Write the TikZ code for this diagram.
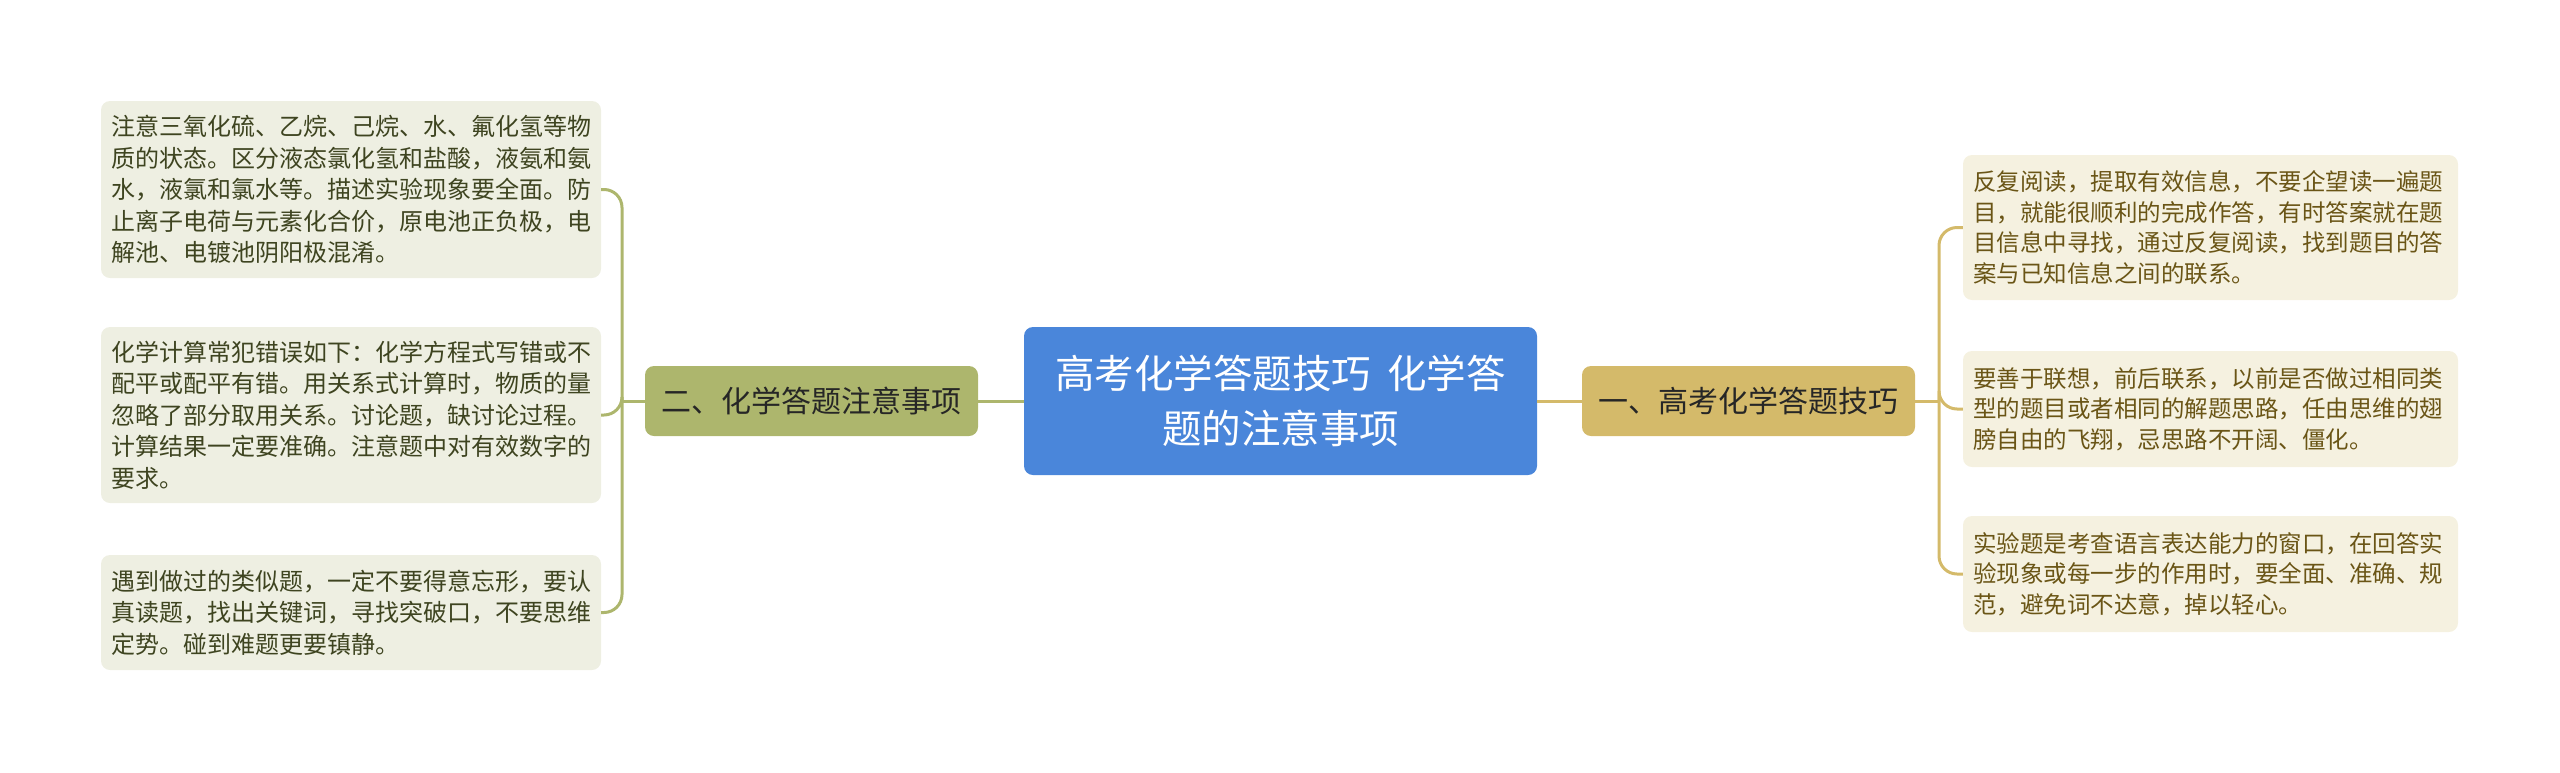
\documentclass[tikz,border=0pt]{standalone}
\usepackage{fontspec}
\setmainfont{Noto Sans CJK SC}
\usetikzlibrary{calc}
\definecolor{cblue}{HTML}{4A86DA}
\definecolor{cOlive}{HTML}{ADB66D}
\definecolor{cGold}{HTML}{D4BA6A}
\definecolor{lfill}{HTML}{EEEFE2}
\definecolor{rfill}{HTML}{F5F1E0}
\definecolor{ltext}{HTML}{3E4420}
\definecolor{rtext}{HTML}{6A5516}
\definecolor{btext}{HTML}{262626}
\begin{document}
\begin{tikzpicture}[x=1pt,y=-1pt,
  leafL/.style={rectangle, rounded corners=9pt, fill=lfill, text=ltext,
    font=\fontsize{24pt}{31.5pt}\selectfont, align=left, text width=480pt,
    inner xsep=10pt, inner ysep=0pt},
  leafR/.style={rectangle, rounded corners=9pt, fill=rfill, text=rtext,
    font=\fontsize{23.5pt}{30.5pt}\selectfont, align=left, text width=475pt,
    inner xsep=10pt, inner ysep=0pt},
  branch/.style={rectangle, rounded corners=9pt, text=btext,
    font=\fontsize{30pt}{36pt}\selectfont, minimum width=333pt, minimum height=70pt,
    inner sep=0pt},
  center/.style={rectangle, rounded corners=9pt, fill=cblue, text=white,
    font=\fontsize{39.5pt}{55pt}\selectfont, align=center,
    minimum width=513pt, minimum height=148pt, inner sep=0pt},
  lconn/.style={draw=cOlive, line width=3pt, rounded corners=18pt},
  rconn/.style={draw=cGold, line width=3pt, rounded corners=18pt}
]
\useasboundingbox (0,0) rectangle (2560,772);

\node[center] (C) at (1280.5,401) {高考化学答题技巧\hspace{0.4em}化学答\\题的注意事项};
\node[branch, fill=cOlive] (bL) at (811.5,401) {二、化学答题注意事项};
\node[branch, fill=cGold] (bR) at (1748.5,401) {一、高考化学答题技巧};

\node[leafL, minimum height=177pt] (L1) at (351,189.5) {注意三氧化硫、乙烷、己烷、水、氟化氢等物\\质的状态。区分液态氯化氢和盐酸，液氨和氨\\水，液氯和氯水等。描述实验现象要全面。防\\止离子电荷与元素化合价，原电池正负极，电\\解池、电镀池阴阳极混淆。};
\node[leafL, minimum height=176pt] (L2) at (351,415) {化学计算常犯错误如下：化学方程式写错或不\\配平或配平有错。用关系式计算时，物质的量\\忽略了部分取用关系。讨论题，缺讨论过程。\\计算结果一定要准确。注意题中对有效数字的\\要求。};
\node[leafL, minimum height=115pt] (L3) at (351,612.5) {遇到做过的类似题，一定不要得意忘形，要认\\真读题，找出关键词，寻找突破口，不要思维\\定势。碰到难题更要镇静。};

\node[leafR, minimum height=145pt] (R1) at (2210.5,227.5) {反复阅读，提取有效信息，不要企望读一遍题\\目，就能很顺利的完成作答，有时答案就在题\\目信息中寻找，通过反复阅读，找到题目的答\\案与已知信息之间的联系。};
\node[leafR, minimum height=116pt] (R2) at (2210.5,409) {要善于联想，前后联系，以前是否做过相同类\\型的题目或者相同的解题思路，任由思维的翅\\膀自由的飞翔，忌思路不开阔、僵化。};
\node[leafR, minimum height=116pt] (R3) at (2210.5,574) {实验题是考查语言表达能力的窗口，在回答实\\验现象或每一步的作用时，要全面、准确、规\\范，避免词不达意，掉以轻心。};

\coordinate (tL) at (622,401);
\coordinate (tR) at (1939,401);

\draw[lconn] (C.west) -- (bL.east);
\draw[rconn] (C.east) -- (bR.west);

\draw[lconn] (bL.west) -- (tL);
\draw[lconn] (tL) |- (L1.east);
\draw[lconn] (tL) |- (L2.east);
\draw[lconn] (tL) |- (L3.east);

\draw[rconn] (bR.east) -- (tR);
\draw[rconn] (tR) |- (R1.west);
\draw[rconn] (tR) |- (R2.west);
\draw[rconn] (tR) |- (R3.west);
\end{tikzpicture}
\end{document}
